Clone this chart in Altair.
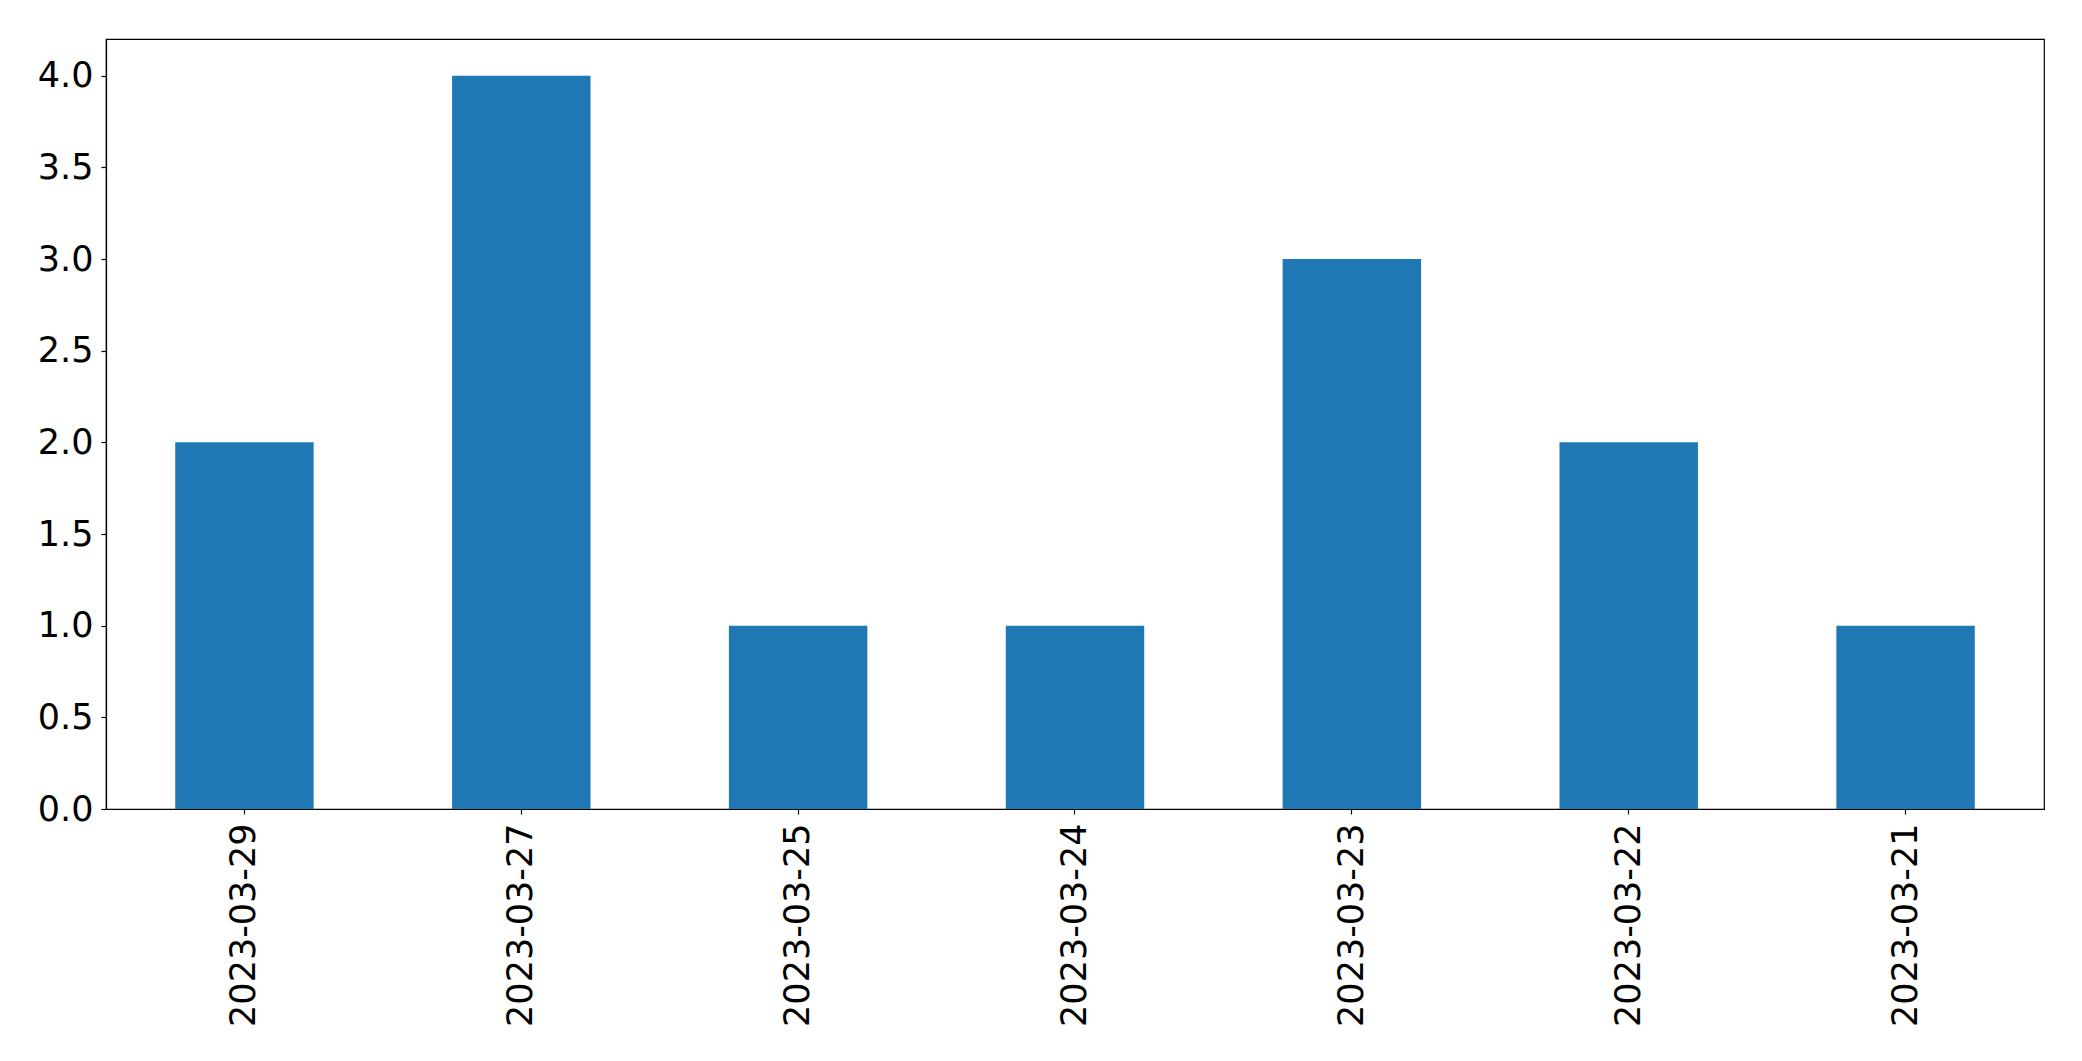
import altair as alt
import pandas as pd

dates = ["2023-03-29", "2023-03-27", "2023-03-25", "2023-03-24", "2023-03-23", "2023-03-22", "2023-03-21"]
counts = [2, 4, 1, 1, 3, 2, 1]
y_ticks = [0.0, 0.5, 1.0, 1.5, 2.0, 2.5, 3.0, 3.5, 4.0]

df = pd.DataFrame({"date": dates, "count": counts})

chart = alt.Chart(df).mark_bar(color="#1f77b4").encode(
    x=alt.X("date:N", sort=None, title=None,
            scale=alt.Scale(paddingInner=0.5, paddingOuter=0.25),
            axis=alt.Axis(labelAngle=-90, labelFontSize=35, labelFont="DejaVu Sans",
                          labelColor="black", tickColor="black", domainColor="black",
                          domainWidth=1.2, tickWidth=1.2, labelLimit=0,
                          tickSize=5, labelPadding=9, grid=False)),
    y=alt.Y("count:Q", title=None,
            scale=alt.Scale(domain=[0, 4.2], nice=False, zero=True),
            axis=alt.Axis(values=y_ticks, format=".1f", labelFontSize=35, labelFont="DejaVu Sans",
                          labelColor="black", tickColor="black", domainColor="black",
                          domainWidth=1.2, tickWidth=1.2,
                          tickSize=5, labelPadding=8, grid=False)),
).properties(
    width=1938, height=770,
    autosize=alt.AutoSizeParams(type="none"),
    padding={"left": 98, "top": 31, "right": 20, "bottom": 240},
    background="white",
).configure_view(stroke="black", strokeWidth=1.2)

chart.save("out.html", embed_options={"renderer": "svg", "actions": False})
